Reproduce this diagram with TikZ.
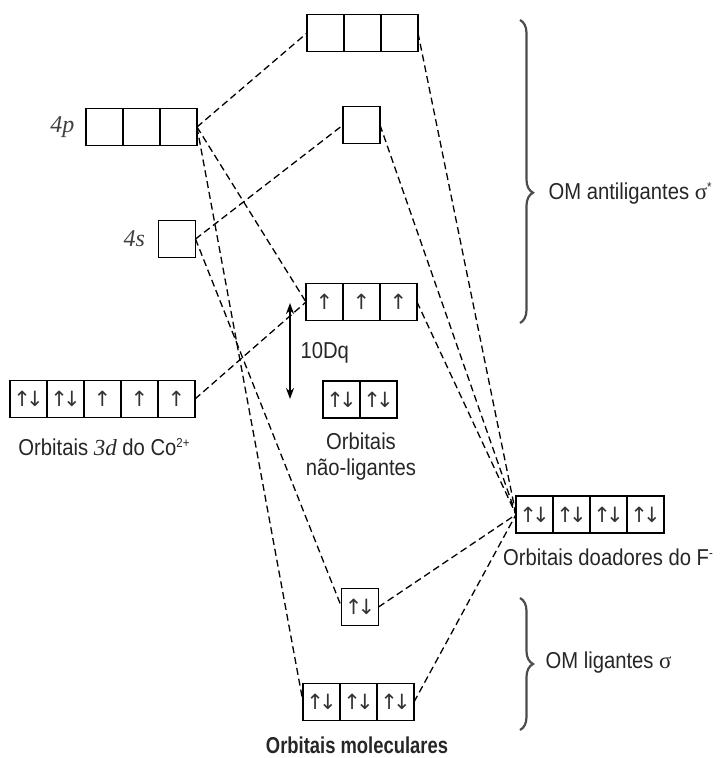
\documentclass[tikz,border=0pt]{standalone}
\usepackage{fontspec}
\setmainfont{Liberation Sans}[FakeStretch=0.88]
\newfontfamily\orbfont{Liberation Serif}
\newfontfamily\arrfont{DejaVu Sans}
\newfontfamily\boldnarrow{Liberation Sans}[FakeStretch=0.8]
\usetikzlibrary{positioning,decorations.pathreplacing,arrows.meta}
\newcommand{\updn}{↑\kern-5pt↓}
\newcommand{\upar}{↑}
\newcommand{\sups}[1]{\raisebox{8pt}{\fontsize{13}{13}\selectfont #1}}

\begin{document}
\begin{tikzpicture}[x=1pt,y=-1pt,line width=1.2pt,
 cell/.style={draw,minimum width=37pt,minimum height=37pt,inner sep=0pt,outer sep=0pt,text=black!80,font=\fontsize{21}{21}\arrfont},
 lbl/.style={inner sep=0pt,text=black!85,font=\fontsize{23}{26}\selectfont},
 ital/.style={inner sep=0pt,text=black!75,font=\fontsize{24}{26}\orbfont\itshape},
 dsh/.style={dash pattern=on 7pt off 4pt,line width=1.3pt},
 brc/.style={decorate,decoration={brace,amplitude=13pt,aspect=#1},line width=2.2pt,black!70},
 dq/.style={{Stealth[length=11pt,width=8pt]}-{Stealth[length=11pt,width=8pt]},line width=1.8pt}]
\useasboundingbox (0,0) rectangle (720,758);

\node[cell] (p1) at (104.5,127) {};
\node[cell,right=0pt of p1] (p2) {};
\node[cell,right=0pt of p2] (p3) {};
\node[ital,left=11pt of p1] (L4p) {4p};
\node[cell] (q1) at (177,239) {};
\node[ital,left=13pt of q1] (L4s) {4s};

\node[cell] (d1) at (28.5,399) {\updn};
\node[cell,right=0pt of d1] (d2) {\updn};
\node[cell,right=0pt of d2] (d3) {\upar};
\node[cell,right=0pt of d3] (d4) {\upar};
\node[cell,right=0pt of d4] (d5) {\upar};
\node[lbl,anchor=base] (L3d) at (104,455) {Orbitais {\orbfont\itshape 3d} do Co\sups{2+}};

\node[cell] (a1) at (325.5,33) {};
\node[cell,right=0pt of a1] (a2) {};
\node[cell,right=0pt of a2] (a3) {};
\node[cell] (s1) at (361.5,125) {};

\node[cell] (t1) at (324.5,302) {\upar};
\node[cell,right=0pt of t1] (t2) {\upar};
\node[cell,right=0pt of t2] (t3) {\upar};
\node[cell] (e1) at (341.5,399.5) {\updn};
\node[cell,right=0pt of e1] (e2) {\updn};
\node[lbl,align=center,anchor=north] (Lnl) at (361,432) {Orbitais\\não-ligantes};

\coordinate (dqa) at (290,303);
\coordinate (dqb) at (290,399);
\draw[dq] (dqa) -- (dqb);
\node[lbl,anchor=base west] (Ldq) at (300,358) {10Dq};

\node[cell] (f1) at (534.5,514.5) {\updn};
\node[cell,right=0pt of f1] (f2) {\updn};
\node[cell,right=0pt of f2] (f3) {\updn};
\node[cell,right=0pt of f3] (f4) {\updn};
\node[lbl,anchor=base] (LF) at (608,565) {Orbitais doadores do F\sups{-}};

\node[cell] (g1) at (360,607) {\updn};
\node[cell] (b1) at (321.5,702) {\updn};
\node[cell,right=0pt of b1] (b2) {\updn};
\node[cell,right=0pt of b2] (b3) {\updn};
\node[lbl,anchor=base,font=\fontsize{23}{26}\boldnarrow\bfseries] (Lom) at (357,753) {Orbitais moleculares};

\draw[brc=0.57] (520,20) -- (520,323);
\node[lbl,anchor=base west] (Lanti) at (548,199) {OM antiligantes {\orbfont σ}\sups{*}};
\draw[brc=0.5] (520,598) -- (520,730);
\node[lbl,anchor=base west] (Llig) at (545,668) {OM ligantes {\orbfont σ}};

\draw[dsh] (p3.east) -- (a1.west);
\draw[dsh] (p3.east) -- (t1.west);
\draw[dsh] (p3.east) -- (b1.west);
\draw[dsh] (q1.east) -- (s1.west);
\draw[dsh] (q1.east) -- (g1.west);
\draw[dsh] (d5.east) -- (t1.west);
\draw[dsh] (a3.east) -- (f1.west);
\draw[dsh] (s1.east) -- (f1.west);
\draw[dsh] (t3.east) -- (f1.west);
\draw[dsh] (g1.east) -- (f1.west);
\draw[dsh] (b3.east) -- (f1.west);
\end{tikzpicture}
\end{document}
